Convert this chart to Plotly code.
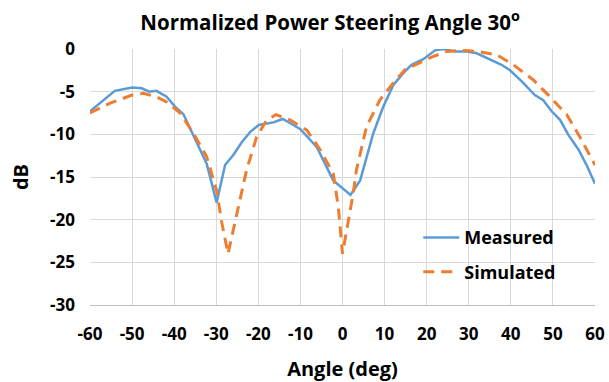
import plotly.graph_objects as go

meas_x = [-60, -54.1, -50, -47.7, -45.9, -44.2, -41.8, -39.8, -37.8, -34.6, -32.3, -29.9,
          -27.9, -25.9, -23.9, -21.9, -19.9, -16.4, -14.2, -12.4, -10, -6.1, -2.2, 1.9,
          4.2, 7.3, 9.7, 12.1, 14.5, 16.4, 19.2, 22.0, 24.0, 26.7, 29.5, 31.9, 34.3,
          37.8, 39.8, 42.6, 45.7, 47.7, 49.7, 51.7, 53.7, 56.1, 58.0, 60]
meas_y = [-7.3, -4.9, -4.5, -4.6, -5.0, -4.9, -5.6, -6.75, -7.65, -11.1, -13.4, -18.0,
          -13.6, -12.4, -10.9, -9.7, -8.9, -8.6, -8.2, -8.7, -9.4, -11.5, -15.4, -17.1,
          -15.4, -9.9, -6.75, -4.2, -2.8, -1.85, -1.2, -0.16, 0, -0.28, -0.3, -0.5, -1.06,
          -1.85, -2.5, -3.8, -5.4, -6.0, -7.3, -8.3, -10.1, -11.8, -13.6, -15.8]

sim_x = [-60, -55.2, -50, -47.3, -44.2, -41.8, -38.6, -35.4, -32.3, -29.9, -28.7, -27.2,
         -25.9, -24.7, -22.8, -20.4, -18.0, -15.8, -12.5, -8.5, -5.3, -2.2, -1.0, 0,
         1.35, 2.55, 3.3, 5.7, 8.9, 11.7, 14.9, 18.4, 21.6, 24.8, 28.7, 31.9, 36.6,
         40.6, 45.3, 49.3, 53.3, 56.4, 60]
sim_y = [-7.5, -6.35, -5.4, -5.2, -5.6, -6.2, -7.5, -9.9, -12.6, -16.6, -20.3, -24.0,
         -21.1, -18.3, -14.2, -10.3, -8.3, -7.7, -8.3, -9.5, -11.8, -14.6, -18.5, -24.0,
         -20.3, -16.9, -14.2, -9.1, -5.96, -4.2, -2.4, -1.65, -0.87, -0.28, -0.16, -0.28, -0.67,
         -1.85, -3.6, -5.6, -7.7, -10.3, -13.6]

x_ticks = list(range(-60, 61, 10))
y_ticks = list(range(-30, 1, 5))

FONT = "Open Sans"

fig = go.Figure()
fig.add_trace(go.Scatter(x=meas_x, y=meas_y, mode="lines", name="<b>Measured</b>",
                         legendgroup="m",
                         line=dict(color="#5B9BD5", width=2.5)))
fig.add_trace(go.Scatter(x=sim_x, y=sim_y, mode="lines", name="<b>Simulated</b>",
                         legendgroup="s",
                         line=dict(color="#ED7D31", width=3, dash="11px,7px")))

fig.update_layout(
    width=609, height=382,
    margin=dict(l=90, r=14, t=49, b=77, autoexpand=False),
    paper_bgcolor="white", plot_bgcolor="white",
    title=dict(text="<b>Normalized Power Steering Angle 30<sup>o</sup></b>",
               x=0.542, xanchor="center", y=0.94, yanchor="middle",
               font=dict(family=FONT, size=20.5, color="black")),
    font=dict(family=FONT, size=17, color="black"),
    legend=dict(x=0.65, y=0.335, xanchor="left", yanchor="top",
                bgcolor="rgba(255,255,255,0)",
                font=dict(family=FONT, size=18, color="black"),
                itemwidth=36, tracegroupgap=8),
    xaxis=dict(range=[-60, 60], tickvals=x_ticks, ticktext=[f"<b>{v}</b>" for v in x_ticks],
               showgrid=True, gridcolor="#d9d9d9", gridwidth=1, automargin=False,
               showline=True, linecolor="#bfbfbf", linewidth=1, zeroline=False,
               ticks="", ticklen=0, ticklabelstandoff=14,
               tickfont=dict(family=FONT, size=17, color="black"),
               title=dict(text="<b>Angle (deg)</b>", font=dict(family=FONT, size=20), standoff=20)),
    yaxis=dict(range=[-30, 0], tickvals=y_ticks, ticktext=[f"<b>{v}</b>" for v in y_ticks],
               showgrid=True, gridcolor="#d9d9d9", gridwidth=1, automargin=False,
               showline=False, zeroline=False, ticks="", ticklabelstandoff=14,
               tickfont=dict(family=FONT, size=17, color="black"),
               title=dict(text="<b>dB</b>", font=dict(family=FONT, size=20), standoff=16)),
)
fig.write_html("out.html")
